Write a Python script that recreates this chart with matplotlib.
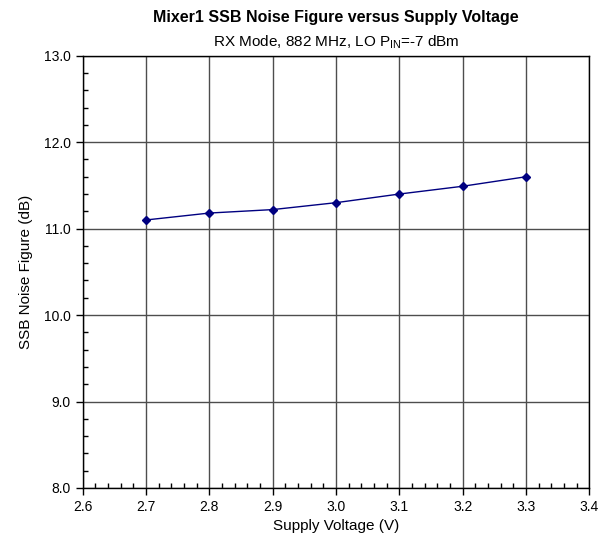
import numpy as np
import matplotlib
matplotlib.use('Agg')
import matplotlib.pyplot as plt
from matplotlib.ticker import MultipleLocator, FormatStrFormatter

plt.rcParams['font.family'] = ['Liberation Sans', 'DejaVu Sans']

# data
voltage = [2.7, 2.8, 2.9, 3.0, 3.1, 3.2, 3.3]
noise_fig = [11.10, 11.18, 11.22, 11.30, 11.40, 11.49, 11.60]

fig = plt.figure(figsize=(6.09, 5.44), dpi=100)
ax = fig.add_axes([0.1358, 0.103, 0.832, 0.7946])

ax.plot(voltage, noise_fig, color='#000080', lw=1, marker='D', ms=4.5, zorder=3)

ax.set_xlim(2.6, 3.4)
ax.set_ylim(8.0, 13.0)
ax.xaxis.set_major_locator(MultipleLocator(0.1))
ax.xaxis.set_minor_locator(MultipleLocator(0.02))
ax.yaxis.set_major_locator(MultipleLocator(1.0))
ax.yaxis.set_minor_locator(MultipleLocator(0.2))
ax.xaxis.set_major_formatter(FormatStrFormatter('%.1f'))
ax.yaxis.set_major_formatter(FormatStrFormatter('%.1f'))

ax.grid(True, which='major', color='#4d4d4d', lw=1)
ax.set_axisbelow(True)
ax.tick_params(which='major', direction='out', length=5, labelsize=10, width=1)
ax.tick_params(which='minor', direction='in', length=3.5, width=1)
ax.tick_params(top=False, right=False, which='both')
for s in ax.spines.values():
    s.set_color('black')
    s.set_linewidth(1)

ax.set_xlabel('Supply Voltage (V)', fontsize=11, labelpad=4)
ax.set_ylabel('SSB Noise Figure (dB)', fontsize=11, labelpad=8)

fig.text(0.552, 0.968, 'Mixer1 SSB Noise Figure versus Supply Voltage',
         ha='center', va='center', fontsize=11.5, fontweight='bold')
fig.text(0.552, 0.922, r'RX Mode, 882 MHz, LO P$_{\mathregular{IN}}$=-7 dBm',
         ha='center', va='center', fontsize=11)

fig.savefig('out.png', dpi=100)
